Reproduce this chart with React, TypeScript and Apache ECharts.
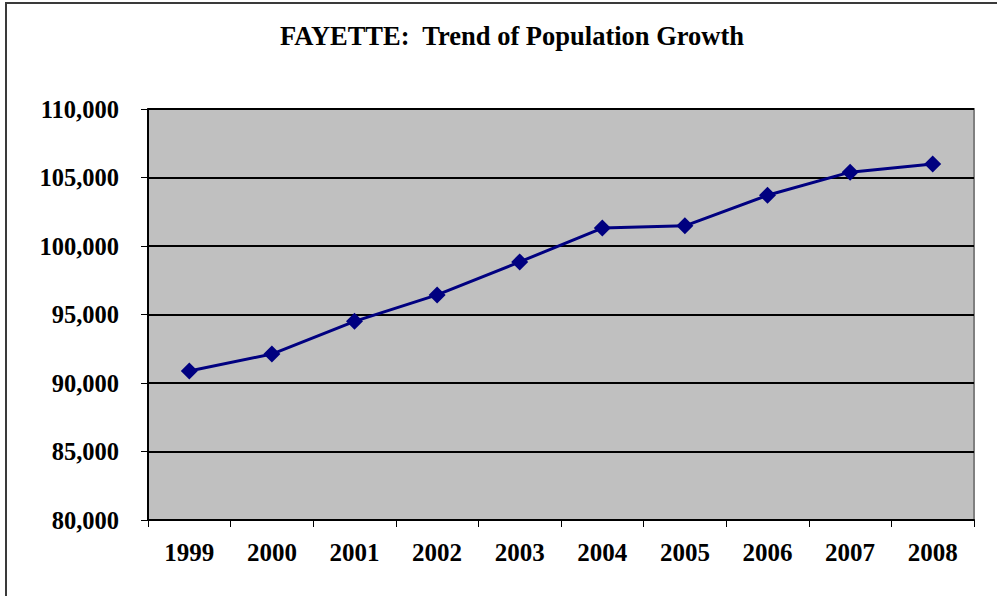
import React, { useEffect, useRef } from "react";
import * as echarts from "echarts";

const titleText = "FAYETTE:\u00a0 Trend of Population Growth";
const years = ["1999", "2000", "2001", "2002", "2003", "2004", "2005", "2006", "2007", "2008"];
const population = [90880, 92110, 94500, 96430, 98840, 101310, 101470, 103700, 105390, 105980];
const yMin = 80000;
const yMax = 110000;
const yStep = 5000;

export default function App() {
  const ref = useRef<HTMLDivElement>(null);
  useEffect(() => {
    if (!ref.current) return;
    const chart = echarts.init(ref.current, null, { renderer: "svg" });
    const font = "'Liberation Serif', 'Times New Roman', serif";
    chart.setOption({
      animation: false,
      backgroundColor: "#ffffff",
      title: {
        text: titleText,
        left: 507,
        top: 17,
        textAlign: "center",
        textStyle: { fontFamily: font, fontWeight: "bold", fontSize: 26.5, color: "#000" },
      },
      graphic: [
        {
          type: "rect",
          shape: { x: 6, y: 3, width: 1100, height: 700 },
          style: { fill: "none", stroke: "#3a3a3a", lineWidth: 2 },
          silent: true,
        },
      ],
      grid: {
        left: 148,
        top: 109,
        width: 826,
        height: 411,
        show: true,
        backgroundColor: "#c0c0c0",
        borderColor: "#808080",
        borderWidth: 2,
      },
      xAxis: {
        type: "category",
        data: years,
        boundaryGap: true,
        axisLine: { show: true, lineStyle: { color: "#000", width: 2 } },
        axisTick: { show: true, inside: false, length: 7, lineStyle: { color: "#000", width: 1 } },
        axisLabel: { fontFamily: font, fontWeight: "bold", fontSize: 25, color: "#000", margin: 20 },
        splitLine: { show: false },
      },
      yAxis: {
        type: "value",
        min: yMin,
        max: yMax,
        interval: yStep,
        axisLine: { show: true, lineStyle: { color: "#000", width: 2 } },
        axisTick: { show: true, inside: false, length: 7, lineStyle: { color: "#000", width: 1 } },
        axisLabel: {
          fontFamily: font,
          fontWeight: "bold",
          fontSize: 24.5,
          color: "#000",
          margin: 29,
          formatter: (v: number) => v.toLocaleString("en-US"),
        },
        splitLine: { show: true, lineStyle: { color: "#000", width: 2 } },
      },
      series: [
        {
          type: "line",
          data: population,
          symbol: "diamond",
          symbolSize: 17,
          itemStyle: { color: "#000080" },
          lineStyle: { color: "#000080", width: 3 },
        },
      ],
    });
    return () => chart.dispose();
  }, []);
  return (
    <div
      ref={ref}
      style={{ position: "absolute", left: 0, top: 0, width: 997, height: 596 }}
    />
  );
}
